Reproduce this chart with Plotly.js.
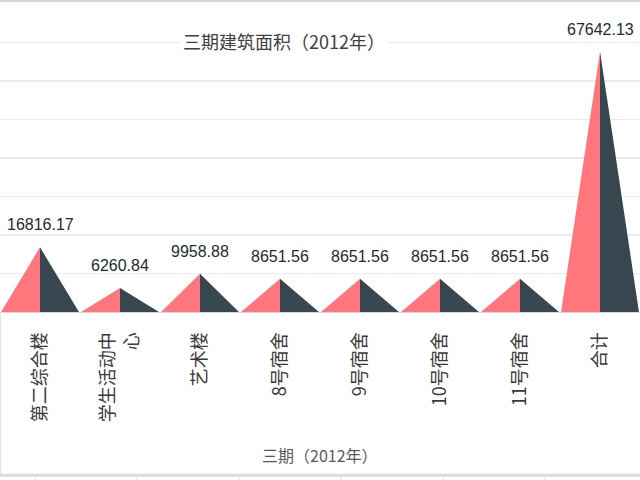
<!DOCTYPE html>
<html>
<head>
<meta charset="utf-8">
<script src="https://cdn.plot.ly/plotly-3.0.1.min.js"></script>
<style>
  html, body { margin: 0; padding: 0; background: #fff; }
  #chart { width: 640px; height: 480px; }
</style>
</head>
<body>
<div id="chart"></div>
<script>
// 三期建筑面积（2012年）
var categories = ["第二综合楼", "学生活动中<br>心", "艺术楼", "8号宿舍", "9号宿舍", "10号宿舍", "11号宿舍", "合计"];
var areaValues = [16816.17, 6260.84, 9958.88, 8651.56, 8651.56, 8651.56, 8651.56, 67642.13];
var valueLabels = ["16816.17", "6260.84", "9958.88", "8651.56", "8651.56", "8651.56", "8651.56", "67642.13"];

var HALF = 0.487; // half width of a pyramid, in categories
var PINK = "#FF777C";
var SLATE = "#37464F";

// left and right halves of each pyramid, built from the values
function halves(side) {
  var xs = [], ys = [];
  areaValues.forEach(function (v, i) {
    var edge = side === "left" ? i - HALF : i + HALF;
    xs.push(edge, i, i, null);
    ys.push(0, v, 0, null);
  });
  return { x: xs, y: ys };
}

var left = halves("left");
var right = halves("right");

var data = [
  {
    x: left.x, y: left.y,
    mode: "lines", fill: "toself", fillcolor: PINK,
    line: { width: 0, color: PINK },
    hoverinfo: "skip", showlegend: false,
  },
  {
    x: right.x, y: right.y,
    mode: "lines", fill: "toself", fillcolor: SLATE,
    line: { width: 0, color: SLATE },
    hoverinfo: "skip", showlegend: false,
  },
];

var annotations = areaValues.map(function (v, i) {
  return {
    x: i, y: v, xref: "x", yref: "y",
    text: valueLabels[i],
    showarrow: false,
    yanchor: "bottom",
    yshift: 12,
    font: { family: "Liberation Sans Narrow, Liberation Sans, Arial, sans-serif", size: 16, color: "#222a33" },
  };
});

// chart title with white box over the gridline
annotations.push({
  xref: "paper", yref: "paper",
  x: 284 / 640, y: 1 - (41 - 4) / 308,
  text: "三期建筑面积（2012年）",
  showarrow: false,
  xanchor: "center", yanchor: "middle",
  bgcolor: "#ffffff",
  borderpad: 2,
  font: { family: "Noto Sans CJK SC", size: 18, color: "#404040" },
});

// category axis title
annotations.push({
  xref: "paper", yref: "paper",
  x: 320 / 640, y: -(455 - 312) / 308,
  text: "三期（2012年）",
  showarrow: false,
  xanchor: "center", yanchor: "middle",
  font: { family: "Noto Sans CJK SC", size: 16, color: "#595959" },
});

// spreadsheet edges around the chart
var shapes = [
  { type: "line", xref: "paper", yref: "paper", x0: 0, x1: 1, y0: 1.011, y1: 1.011,
    line: { color: "#d6d6d6", width: 3 } },
  { type: "line", xref: "paper", yref: "paper", x0: 0, x1: 1, y0: -0.53, y1: -0.53,
    line: { color: "#dcdcdc", width: 3 } },
  { type: "line", xref: "paper", yref: "paper", x0: 0.001, x1: 0.001, y0: 0, y1: -0.53,
    line: { color: "#e0e0e0", width: 1 } },
];
[35, 137, 239, 341, 443, 545].forEach(function (px) {
  shapes.push({
    type: "line", xref: "paper", yref: "paper",
    x0: px / 640, x1: px / 640, y0: -0.54, y1: -0.56,
    line: { color: "#cfcfcf", width: 1 },
  });
});

var layout = {
  width: 640,
  height: 480,
  margin: { l: 0, r: 0, t: 4, b: 168 },
  paper_bgcolor: "#ffffff",
  plot_bgcolor: "#ffffff",
  showlegend: false,
  xaxis: {
    range: [-0.5, 7.5],
    tickvals: categories.map(function (c, i) { return i; }),
    ticktext: categories,
    tickangle: -90,
    ticks: "",
    ticklabelstandoff: 12,
    showgrid: false,
    zeroline: false,
    showline: true,
    linecolor: "#d9d9d9",
    linewidth: 1,
    tickfont: { family: "Noto Sans CJK SC", size: 18, color: "#3a3a3a" },
  },
  yaxis: {
    range: [0, 80000],
    dtick: 10000,
    showticklabels: false,
    ticks: "",
    gridcolor: "#ebebeb",
    gridwidth: 1.5,
    zeroline: false,
  },
  annotations: annotations,
  shapes: shapes,
};

Plotly.newPlot("chart", data, layout, { staticPlot: true });
</script>
</body>
</html>
